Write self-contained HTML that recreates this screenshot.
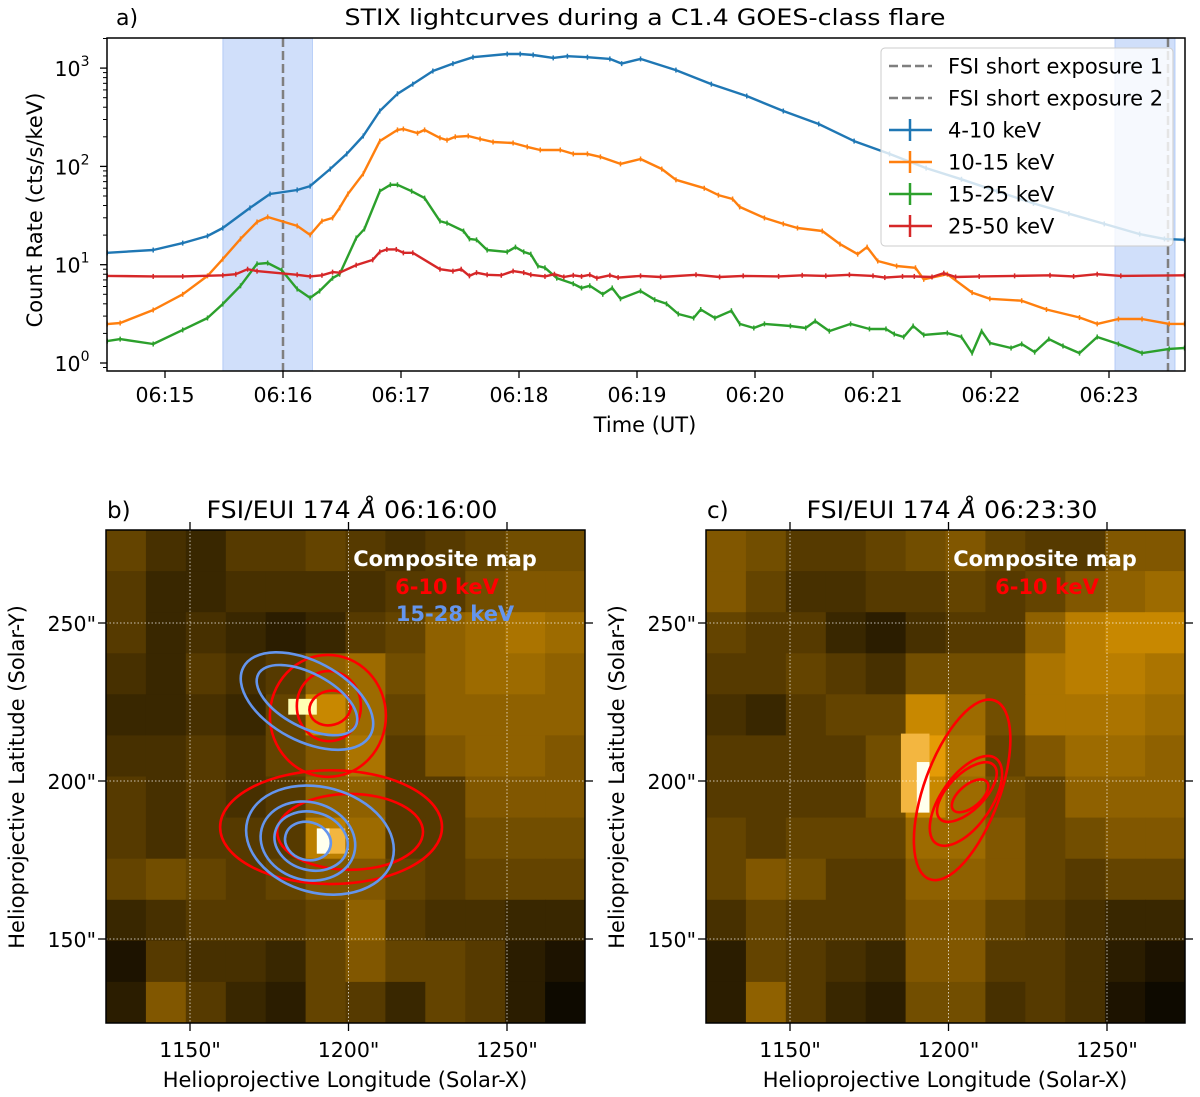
<!DOCTYPE html>
<html><head><meta charset="utf-8">
<style>
html,body{margin:0;padding:0;background:#fff;}
svg{display:block;font-family:"DejaVu Sans","Liberation Sans",sans-serif;}
</style></head>
<body>
<svg id="fig" width="1200" height="1097" viewBox="0 0 1200 1097" xmlns="http://www.w3.org/2000/svg">
<g id="topPanel"></g>
<g id="pb"></g>
<g id="pc"></g>
</svg>
<script>
// ---------- Lightcurve data (time in minutes after 06:00, counts in cts/s/keV) ----------
const blueT = [14.51,14.9,15.15,15.36,15.49,15.72,15.89,16.12,16.23,16.40,16.54,16.68,16.82,16.97,17.10,17.27,17.44,17.61,17.90,18.01,18.12,18.29,18.41,18.58,18.77,18.87,19.03,19.33,19.63,19.93,20.24,20.54,20.84,21.14,21.45,21.75,22.05,22.36,22.66,22.96,23.26,23.47,23.64];
const blueV = [13.2,14.1,16.6,19.6,23.6,37.8,52.4,57.6,63,94,134,204,366,548,687,934,1110,1290,1390,1390,1360,1270,1320,1290,1240,1110,1240,955,687,520,366,270,181,134,96,74,56,42,33,26,20.5,18.3,17.9];
const orangeT = [14.51,14.62,14.90,15.15,15.36,15.49,15.64,15.78,15.87,16.12,16.23,16.33,16.42,16.48,16.55,16.68,16.82,16.97,17.02,17.14,17.20,17.33,17.39,17.46,17.57,17.67,17.78,17.95,18.07,18.18,18.35,18.46,18.58,18.69,18.86,19.03,19.21,19.33,19.57,19.69,19.81,19.87,20.08,20.24,20.36,20.57,20.72,20.87,20.95,21.04,21.20,21.36,21.43,21.63,21.84,21.99,22.26,22.47,22.75,22.90,23.08,23.28,23.51,23.64];
const orangeV = [2.49,2.55,3.46,5.0,7.7,11.4,18.3,27.2,30.6,24.8,20.1,27.8,29.9,37.8,52.4,84,181,235,240,218,235,195,185,200,204,190,177,173,158,147,147,134,134,125,106,119,94,73,60,51,46.6,38.7,29.9,26,23.6,22,16.2,12.8,15.1,10.9,9.7,9.3,7.1,8.0,5.2,4.5,4.3,3.5,2.9,2.5,2.8,2.8,2.5,2.5];
const greenT = [14.51,14.62,14.90,15.15,15.36,15.49,15.64,15.78,15.87,15.99,16.12,16.23,16.31,16.42,16.48,16.62,16.69,16.82,16.91,16.97,17.09,17.20,17.33,17.39,17.53,17.58,17.64,17.73,17.90,17.97,18.04,18.10,18.16,18.22,18.32,18.46,18.53,18.60,18.71,18.79,18.86,19.03,19.15,19.25,19.35,19.48,19.54,19.66,19.80,19.87,19.99,20.08,20.30,20.43,20.51,20.63,20.81,20.97,21.11,21.18,21.26,21.34,21.43,21.63,21.75,21.84,21.92,21.99,22.17,22.26,22.37,22.49,22.61,22.75,22.90,23.08,23.28,23.51,23.64];
const greenV = [1.67,1.75,1.56,2.17,2.87,3.98,6.1,10.2,10.4,8.8,5.66,4.6,5.4,7.3,8.0,18.7,23.1,56,65,65,56,47.6,27.8,26.5,22,18.3,17.9,14.1,13.5,15.1,13.5,12.8,9.7,9.3,7.3,6.4,5.8,6.1,5.0,5.8,4.5,5.4,4.4,4.0,3.15,2.87,3.5,2.87,3.4,2.5,2.27,2.5,2.38,2.27,2.67,2.11,2.5,2.22,2.22,1.97,1.84,2.38,1.93,2.02,1.84,1.26,2.11,1.6,1.42,1.56,1.29,1.75,1.49,1.26,1.84,1.56,1.26,1.39,1.42];
const redT = [14.51,14.9,15.15,15.49,15.60,15.70,15.78,16.12,16.23,16.33,16.42,16.48,16.62,16.76,16.82,16.88,16.96,17.02,17.10,17.33,17.44,17.51,17.58,17.64,17.73,17.85,17.95,18.04,18.10,18.22,18.30,18.38,18.46,18.53,18.60,18.66,18.77,18.84,19.03,19.2,19.5,19.7,19.9,20.2,20.4,20.6,20.8,21.0,21.1,21.25,21.35,21.5,21.6,21.7,21.9,22.2,22.5,22.7,22.9,23.1,23.64];
const redV = [7.7,7.6,7.6,7.8,8.0,9.0,8.6,7.9,7.6,7.8,8.4,8.3,9.9,11.2,13.5,14.3,14.3,13.2,13.2,9.0,8.6,9.0,7.7,8.3,7.9,7.8,8.6,8.3,7.9,7.6,8.0,7.5,7.8,7.6,7.9,7.3,7.8,7.4,7.7,7.5,7.9,7.5,7.7,7.6,7.8,7.7,7.9,7.7,7.4,7.6,7.6,7.5,8.2,7.5,7.6,7.7,7.8,7.6,8.0,7.7,7.8];
const seriesNames = ["4-10 keV","10-15 keV","15-25 keV","25-50 keV"];
const exposureTimes = [16.0, 23.5];
const exposureSpans = [[15.49,16.25],[23.05,23.56]];
const xTickMinutes = [15,16,17,18,19,20,21,22,23];
const xTickLabels = ["06:15","06:16","06:17","06:18","06:19","06:20","06:21","06:22","06:23"];
const yTickExps = [0,1,2,3];

// ---------- Map data (brightness 0..1, 12x12 coarse grid, rows top->bottom) ----------
const mapB = [
[0.35,0.25,0.2,0.3,0.3,0.35,0.3,0.25,0.3,0.35,0.4,0.4],
[0.3,0.2,0.2,0.25,0.25,0.25,0.25,0.3,0.3,0.4,0.45,0.45],
[0.3,0.2,0.25,0.2,0.15,0.2,0.3,0.35,0.5,0.55,0.6,0.55],
[0.25,0.2,0.3,0.25,0.3,0.5,0.55,0.4,0.5,0.55,0.55,0.5],
[0.2,0.2,0.25,0.2,0.35,0.7,0.55,0.35,0.5,0.5,0.5,0.5],
[0.25,0.25,0.3,0.25,0.35,0.45,0.6,0.3,0.45,0.5,0.5,0.45],
[0.3,0.25,0.3,0.25,0.3,0.5,0.5,0.3,0.3,0.45,0.45,0.45],
[0.3,0.25,0.3,0.3,0.3,0.65,0.55,0.3,0.3,0.4,0.4,0.4],
[0.35,0.4,0.35,0.3,0.35,0.45,0.45,0.35,0.3,0.35,0.35,0.35],
[0.2,0.25,0.3,0.3,0.3,0.35,0.5,0.3,0.25,0.25,0.2,0.2],
[0.1,0.3,0.25,0.25,0.2,0.35,0.45,0.35,0.35,0.3,0.15,0.1],
[0.15,0.45,0.3,0.2,0.15,0.35,0.3,0.2,0.35,0.3,0.15,0.05]];
const mapC = [
[0.45,0.4,0.3,0.3,0.35,0.4,0.45,0.35,0.3,0.3,0.45,0.45],
[0.45,0.35,0.25,0.25,0.3,0.3,0.35,0.3,0.35,0.45,0.5,0.55],
[0.35,0.3,0.3,0.2,0.15,0.25,0.3,0.3,0.5,0.65,0.7,0.7],
[0.3,0.3,0.35,0.3,0.25,0.4,0.4,0.4,0.6,0.65,0.65,0.6],
[0.25,0.2,0.3,0.35,0.35,0.7,0.55,0.4,0.6,0.6,0.6,0.55],
[0.3,0.3,0.3,0.3,0.4,0.8,0.6,0.35,0.45,0.55,0.55,0.5],
[0.3,0.3,0.3,0.3,0.4,0.7,0.55,0.4,0.35,0.5,0.5,0.5],
[0.35,0.3,0.35,0.35,0.35,0.55,0.55,0.45,0.35,0.4,0.45,0.45],
[0.35,0.45,0.4,0.3,0.3,0.5,0.5,0.45,0.35,0.3,0.35,0.35],
[0.25,0.35,0.3,0.3,0.3,0.45,0.45,0.35,0.3,0.25,0.2,0.2],
[0.15,0.35,0.3,0.25,0.2,0.45,0.45,0.3,0.3,0.25,0.15,0.1],
[0.15,0.5,0.3,0.2,0.15,0.4,0.4,0.25,0.3,0.25,0.1,0.05]];
// bright spots: [x0",y0",x1",y1",brightness]
const spotsB = [[1181,226,1190,221,0.95],[1190,185,1194,177,1.0],[1194,185,1199,177,0.85]];
const spotsC = [[1185,215,1194,190,0.85],[1190,206,1194,190,1.0]];
// contours as ellipses: [cx",cy",rx",ry",rotDeg]
const redB = [[1194.2,223.1,6.6,5.4,-15],[1193.8,223.7,10.1,11.1,0],[1193.5,220.6,18.3,19.3,0],[1194.5,185.4,35,18,0],[1200.5,183.9,23,12,0]];
const blueB = [[1186.9,225.3,22.7,12.6,28],[1186.9,225.6,17.4,8.5,28],[1191,181.3,23.7,16.7,15],[1187.2,181,15.1,12.3,15],[1188.2,181,11.7,9.2,15],[1187.2,181,7.3,6,15]];
const redC = [[1206.8,195.3,6.9,3.5,-40],[1205.8,196.5,12,5.7,-45],[1205.5,193.7,16.4,7.9,-55],[1204.3,197.2,30,12,-70]];
const mapXTicks = [1150,1200,1250];
const mapYTicks = [150,200,250];

const NS = "http://www.w3.org/2000/svg";
function mk(parent, tag, attrs, text){
  const e = document.createElementNS(NS, tag);
  for (const k in attrs) e.setAttribute(k, attrs[k]);
  if (text !== undefined) e.textContent = text;
  parent.appendChild(e); return e;
}

// ---------- Top panel ----------
const topG = document.getElementById('topPanel');
const AX = {l:107, r:1185, t:38, b:371};
const xS = m => 165 + (m - 15) * 118;
const yS = v => 363 - Math.log10(v) * 98.3;

for (const s of exposureSpans) {
  const r = mk(topG, 'rect', {x:xS(s[0]), y:AX.t, width:xS(s[1])-xS(s[0]), height:AX.b-AX.t, fill:'#6495ed', 'fill-opacity':0.3, stroke:'#6495ed', 'stroke-opacity':0.35});
  
  
}
for (const t of exposureTimes) {
  const l = mk(topG, 'line', {x1:xS(t), x2:xS(t), y1:AX.t, y2:AX.b, stroke:'#7f7f7f', 'stroke-width':2.5, 'stroke-dasharray':'9,4'});
  
  
}
const allSeries = [[blueT,blueV,'#1f77b4'],[orangeT,orangeV,'#ff7f0e'],[greenT,greenV,'#2ca02c'],[redT,redV,'#d62728']];
allSeries.forEach((s, i) => {
  const g = mk(topG, 'g', {});
  
  
  const pts = s[0].map((t, j) => xS(t).toFixed(1) + ',' + yS(s[1][j]).toFixed(1)).join(' ');
  mk(g, 'polyline', {points:pts, fill:'none', stroke:s[2], 'stroke-width':2.4, 'stroke-linejoin':'round'});
  s[0].forEach((t, j) => {
    const x = xS(t), y = yS(s[1][j]);
    mk(g, 'line', {x1:x, x2:x, y1:y-2.5, y2:y+2.5, stroke:s[2], 'stroke-width':1.5});
  });
});
const fr = mk(topG, 'rect', {x:AX.l, y:AX.t, width:AX.r-AX.l, height:AX.b-AX.t, fill:'none', stroke:'#000', 'stroke-width':1.5});


xTickMinutes.forEach((m, i) => {
  mk(topG, 'line', {x1:xS(m), x2:xS(m), y1:AX.b, y2:AX.b+7, stroke:'#000', 'stroke-width':1.3});
  const t = mk(topG, 'text', {x:xS(m), y:AX.b+31, 'font-size':20.5, 'text-anchor':'middle'}, xTickLabels[i]);
  
  
});
yTickExps.forEach(e => {
  const y = yS(Math.pow(10, e));
  mk(topG, 'line', {x1:AX.l-7, x2:AX.l, y1:y, y2:y, stroke:'#000', 'stroke-width':1.3});
  const t = mk(topG, 'text', {x:AX.l-35, y:y+8, 'font-size':20.5, 'text-anchor':'middle'});
  
  
  mk(t, 'tspan', {}, '10');
  mk(t, 'tspan', {dy:-10, 'font-size':14}, String(e));
});
for (let e = -1; e <= 3; e++) for (let k = 2; k <= 9; k++) {
  const v = k * Math.pow(10, e), y = yS(v);
  if (y < AX.t || y > AX.b) continue;
  mk(topG, 'line', {x1:AX.l-4, x2:AX.l, y1:y, y2:y, stroke:'#000', 'stroke-width':1});
}
const pa = mk(topG, 'text', {x:116, y:25, 'font-size':22}, 'a)');


const tt = mk(topG, 'text', {x:645, y:25, 'font-size':22.5, 'text-anchor':'middle', textLength:601, lengthAdjust:'spacingAndGlyphs'}, 'STIX lightcurves during a C1.4 GOES-class flare');


const xl = mk(topG, 'text', {x:645, y:432, 'font-size':21, 'text-anchor':'middle'}, 'Time (UT)');


const yl = mk(topG, 'text', {x:0, y:0, 'font-size':21, 'text-anchor':'middle', transform:'translate(42,210) rotate(-90)'}, 'Count Rate (cts/s/keV)');


const lg = mk(topG, 'g', {});


mk(lg, 'rect', {x:881, y:48, width:292, height:198, rx:4, fill:'#fff', 'fill-opacity':0.8, stroke:'#cccccc', 'stroke-width':1});
const legLabels = ['FSI short exposure 1','FSI short exposure 2'].concat(seriesNames);
const legColors = ['#7f7f7f','#7f7f7f','#1f77b4','#ff7f0e','#2ca02c','#d62728'];
legLabels.forEach((lab, i) => {
  const y = 66 + i * 32;
  const e = mk(lg, 'g', {});
  
  
  if (i < 2) mk(e, 'line', {x1:889, x2:932, y1:y, y2:y, stroke:legColors[i], 'stroke-width':2.5, 'stroke-dasharray':'9,4'});
  else {
    mk(e, 'line', {x1:889, x2:932, y1:y, y2:y, stroke:legColors[i], 'stroke-width':2.5});
    mk(e, 'line', {x1:910, x2:910, y1:y-11, y2:y+11, stroke:legColors[i], 'stroke-width':2.5});
  }
  mk(e, 'text', {x:948, y:y+7.5, 'font-size':21}, lab);
});

// ---------- Map panels ----------
function cmap(b){
  const c = v => Math.round(255 * Math.max(0, Math.min(1, v)));
  return 'rgb(' + c(1.12*b) + ',' + c(0.76*b + Math.max(0, b-0.82)*2.2) + ',' + c((b-0.8)*4.5 + 0.03*b) + ')';
}
function mapPanel(gid, L, grid, spots, reds, blues, label, title, showBlue){
  const g = document.getElementById(gid);
  const T = 530, B = 1023, R = L + 479;
  const ax = a => L + 84 + (a - 1150) * 3.17;
  const ay = a => 781 - (a - 200) * 3.16;
  const clipId = gid + '-clip';
  const defs = mk(g, 'defs', {});
  const cp = mk(defs, 'clipPath', {id:clipId});
  mk(cp, 'rect', {x:L, y:T, width:R-L, height:B-T});
  const img = mk(g, 'g', {'clip-path':'url(#' + clipId + ')'});
  
  
  const nr = grid.length, nc = grid[0].length;
  const cw = (R - L) / nc, ch = (B - T) / nr;
  grid.forEach((row, r) => row.forEach((b, c) => {
    const cell = mk(img, 'rect', {x:(L + c*cw).toFixed(1), y:(T + r*ch).toFixed(1), width:(cw+0.6).toFixed(1), height:(ch+0.6).toFixed(1), fill:cmap(b)});
    
    
  }));
  spots.forEach(s => {
    const sp = mk(img, 'rect', {x:ax(s[0]), y:ay(s[1]), width:ax(s[2])-ax(s[0]), height:ay(s[3])-ay(s[1]), fill:cmap(s[4])});
    
    
  });
  mapXTicks.forEach(v => mk(img, 'line', {x1:ax(v), x2:ax(v), y1:T, y2:B, stroke:'#fff', 'stroke-opacity':0.7, 'stroke-width':1, 'stroke-dasharray':'1.5,2'}));
  mapYTicks.forEach(v => mk(img, 'line', {x1:L, x2:R, y1:ay(v), y2:ay(v), stroke:'#fff', 'stroke-opacity':0.7, 'stroke-width':1, 'stroke-dasharray':'1.5,2'}));
  const drawE = (arr, col, nm) => arr.forEach(e => {
    const el = mk(img, 'ellipse', {cx:ax(e[0]), cy:ay(e[1]), rx:e[2]*3.17, ry:e[3]*3.16, fill:'none', stroke:col, 'stroke-width':2.6, transform:'rotate(' + e[4] + ' ' + ax(e[0]) + ' ' + ay(e[1]) + ')'});
    
    
  });
  drawE(reds, '#ff0000', 'contour-6-10-kev');
  drawE(blues, '#6495ed', 'contour-15-28-kev');
  const mf = mk(g, 'rect', {x:L, y:T, width:R-L, height:B-T, fill:'none', stroke:'#000', 'stroke-width':1.5});
  
  
  mapXTicks.forEach(v => {
    mk(g, 'line', {x1:ax(v), x2:ax(v), y1:B, y2:B+8, stroke:'#000', 'stroke-width':1.3});
    mk(g, 'line', {x1:ax(v), x2:ax(v), y1:T-8, y2:T, stroke:'#000', 'stroke-width':1.3});
    const t = mk(g, 'text', {x:ax(v), y:B+34, 'font-size':20.5, 'text-anchor':'middle'}, v + '"');
    
    
  });
  mapYTicks.forEach(v => {
    mk(g, 'line', {x1:L-8, x2:L, y1:ay(v), y2:ay(v), stroke:'#000', 'stroke-width':1.3});
    mk(g, 'line', {x1:R, x2:R+8, y1:ay(v), y2:ay(v), stroke:'#000', 'stroke-width':1.3});
    const t = mk(g, 'text', {x:L-10, y:ay(v)+8, 'font-size':20.5, 'text-anchor':'end'}, v + '"');
    
    
  });
  const pl = mk(g, 'text', {x:L+1, y:518, 'font-size':23}, label);
  
  
  const ti = mk(g, 'text', {x:L+246, y:518, 'font-size':24, 'text-anchor':'middle', textLength:291, lengthAdjust:'spacingAndGlyphs'});
  
  
  ti.appendChild(document.createTextNode('FSI/EUI 174 '));
  mk(ti, 'tspan', {'font-style':'italic'}, 'Å');
  ti.appendChild(document.createTextNode(' ' + title));
  const c1 = mk(g, 'text', {x:L+339, y:566, 'font-size':21, 'font-weight':'bold', fill:'#fff', 'text-anchor':'middle'}, 'Composite map');
  
  
  const c2 = mk(g, 'text', {x:L+341, y:594, 'font-size':21, 'font-weight':'bold', fill:'#ff0000', 'text-anchor':'middle'}, '6-10 keV');
  
  
  if (showBlue) {
    const c3 = mk(g, 'text', {x:L+349, y:621, 'font-size':21, 'font-weight':'bold', fill:'#6495ed', 'text-anchor':'middle'}, '15-28 keV');
    
    
  }
  const xt = mk(g, 'text', {x:L+239, y:1087, 'font-size':21, 'text-anchor':'middle'}, 'Helioprojective Longitude (Solar-X)');
  
  
  const yt = mk(g, 'text', {x:0, y:0, 'font-size':21, 'text-anchor':'middle', transform:'translate(' + (L-82) + ',777) rotate(-90)'}, 'Helioprojective Latitude (Solar-Y)');
  
  
}
mapPanel('pb', 106, mapB, spotsB, redB, blueB, 'b)', '06:16:00', true);
mapPanel('pc', 706, mapC, spotsC, redC, [], 'c)', '06:23:30', false);
</script>
</body></html>
